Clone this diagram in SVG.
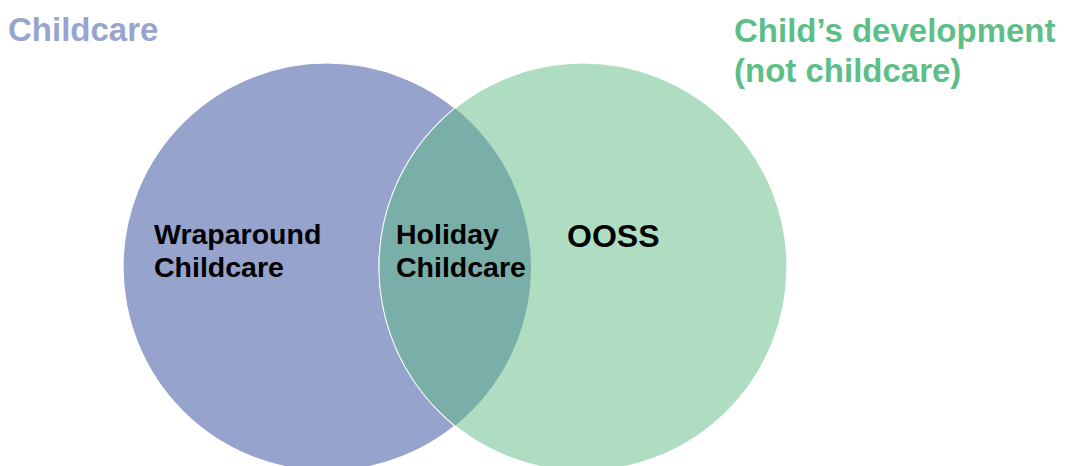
<svg xmlns="http://www.w3.org/2000/svg" width="1066" height="466" viewBox="0 0 1066 466">
<style>
.t{font-family:"Liberation Sans",Arial,sans-serif;font-weight:bold}
.lbl{fill:#000;font-size:28.5px}
.c{stroke:#fff;stroke-width:1.2}
</style>
<rect width="1066" height="466" fill="#fff"/>
<g id="childcare-circle"><circle class="c" cx="327" cy="267" r="204" fill="#96A3CC"/></g>
<g id="development-circle"><circle class="c" cx="583" cy="267" r="204" fill="#AFDDC1"/></g>
<g id="overlap"><path d="M455,108.2 A204,204 0 0 1 455,425.8 A204,204 0 0 1 455,108.2 Z" fill="#7AAEA8"/><path d="M455,425.8 A204,204 0 0 1 455,108.2" fill="none" stroke="#fff" stroke-width="1" opacity="0.8"/></g>
<g id="connectors"></g>
<g id="title-childcare"><text class="t" x="8" y="41" font-size="33" fill="#97A4CF">Childcare</text></g>
<g id="title-development"><text class="t" x="734" y="42" font-size="33" fill="#5DBF87">Child’s development</text><text class="t" x="734" y="82" font-size="33" fill="#5DBF87">(not childcare)</text></g>
<g id="wraparound"><text class="t lbl" x="154" y="244">Wraparound</text><text class="t lbl" x="154" y="277">Childcare</text></g>
<g id="holiday"><text class="t lbl" x="396" y="244">Holiday</text><text class="t lbl" x="396" y="277">Childcare</text></g>
<g id="ooss"><text class="t" x="567" y="247" font-size="32" fill="#000">OOSS</text></g>
</svg>
